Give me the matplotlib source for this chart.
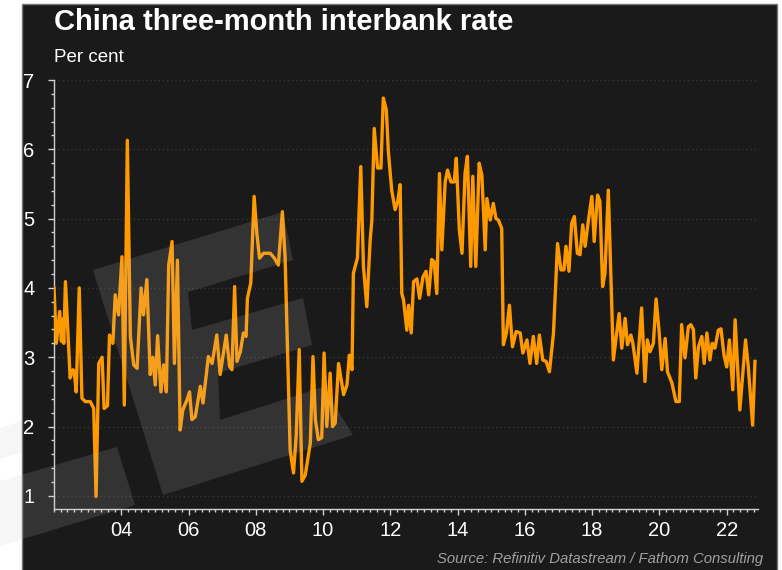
import matplotlib
matplotlib.use("Agg")
import matplotlib.pyplot as plt
from matplotlib.patches import Rectangle, Polygon
from matplotlib.ticker import MultipleLocator

plt.rcParams['font.family'] = ['Liberation Sans', 'DejaVu Sans']

# decimal years and three-month rate (per cent)
dates = [2002.00, 2002.07, 2002.17, 2002.22, 2002.25, 2002.29, 2002.34, 2002.48, 2002.56, 2002.60,
         2002.66, 2002.75, 2002.83, 2002.93, 2003.08, 2003.18, 2003.25, 2003.33, 2003.43, 2003.49,
         2003.59, 2003.65, 2003.75, 2003.82, 2003.92, 2004.02, 2004.09, 2004.18, 2004.27, 2004.37,
         2004.47, 2004.59, 2004.66, 2004.76, 2004.86, 2004.94, 2005.01, 2005.08, 2005.18, 2005.26,
         2005.34, 2005.41, 2005.51, 2005.58, 2005.67, 2005.75, 2005.83, 2005.95, 2006.03, 2006.10,
         2006.20, 2006.35, 2006.43, 2006.59, 2006.70, 2006.84, 2006.94, 2007.12, 2007.22, 2007.29,
         2007.37, 2007.44, 2007.54, 2007.63, 2007.71, 2007.75, 2007.85, 2007.95, 2008.03, 2008.11,
         2008.23, 2008.43, 2008.55, 2008.67, 2008.79, 2008.87, 2009.02, 2009.12, 2009.20, 2009.29,
         2009.37, 2009.47, 2009.62, 2009.70, 2009.77, 2009.86, 2009.96, 2010.03, 2010.11, 2010.21,
         2010.28, 2010.36, 2010.46, 2010.61, 2010.71, 2010.78, 2010.86, 2010.90, 2011.02, 2011.12,
         2011.20, 2011.30, 2011.40, 2011.45, 2011.52, 2011.62, 2011.72, 2011.79, 2011.88, 2011.94,
         2012.04, 2012.14, 2012.22, 2012.29, 2012.34, 2012.39, 2012.49, 2012.54, 2012.62, 2012.69,
         2012.79, 2012.87, 2012.97, 2013.06, 2013.14, 2013.23, 2013.30, 2013.38, 2013.46, 2013.53,
         2013.63, 2013.70, 2013.80, 2013.90, 2013.96, 2014.05, 2014.13, 2014.22, 2014.29, 2014.39,
         2014.45, 2014.54, 2014.64, 2014.72, 2014.82, 2014.87, 2014.97, 2015.06, 2015.14, 2015.21,
         2015.31, 2015.36, 2015.45, 2015.54, 2015.63, 2015.74, 2015.86, 2015.94, 2016.06, 2016.15,
         2016.25, 2016.35, 2016.43, 2016.53, 2016.63, 2016.73, 2016.85, 2016.97, 2017.07, 2017.16,
         2017.22, 2017.31, 2017.39, 2017.47, 2017.56, 2017.64, 2017.72, 2017.79, 2017.89, 2017.99,
         2018.06, 2018.16, 2018.23, 2018.31, 2018.38, 2018.48, 2018.63, 2018.80, 2018.88, 2018.98,
         2019.05, 2019.15, 2019.21, 2019.33, 2019.47, 2019.57, 2019.64, 2019.72, 2019.82, 2019.90,
         2019.99, 2020.07, 2020.17, 2020.24, 2020.37, 2020.49, 2020.59, 2020.66, 2020.76, 2020.86,
         2020.93, 2021.01, 2021.08, 2021.16, 2021.26, 2021.33, 2021.41, 2021.50, 2021.57, 2021.65,
         2021.75, 2021.83, 2021.92, 2022.00, 2022.08, 2022.18, 2022.25, 2022.39, 2022.56, 2022.64,
         2022.77, 2022.84]
rates = [4.00, 3.20, 3.66, 3.23, 3.55, 3.20, 4.09, 2.70, 2.82, 2.80,
         2.50, 4.00, 2.41, 2.36, 2.36, 2.26, 0.99, 2.91, 3.00, 2.26,
         2.30, 3.32, 3.20, 3.90, 3.61, 4.45, 2.31, 6.13, 3.30, 2.89,
         2.84, 4.00, 3.61, 4.12, 2.75, 3.00, 2.60, 3.31, 2.50, 2.89,
         2.50, 4.33, 4.67, 2.91, 4.40, 1.95, 2.24, 2.38, 2.50, 2.10,
         2.14, 2.58, 2.34, 3.01, 2.91, 3.32, 2.75, 3.32, 2.87, 2.82,
         4.02, 2.94, 3.08, 3.35, 3.30, 3.85, 4.07, 5.32, 4.79, 4.43,
         4.50, 4.50, 4.43, 4.33, 5.10, 4.45, 1.66, 1.33, 1.86, 3.11,
         1.21, 1.30, 1.76, 3.01, 2.10, 1.81, 1.84, 3.06, 2.00, 2.77,
         2.00, 2.05, 2.91, 2.46, 2.60, 3.03, 2.82, 4.21, 4.43, 5.75,
         4.31, 3.73, 4.69, 4.98, 6.30, 5.73, 5.73, 6.74, 6.57, 5.97,
         5.41, 5.13, 5.25, 5.49, 3.92, 3.83, 3.39, 3.75, 3.35, 4.09,
         4.13, 3.85, 4.16, 4.24, 3.90, 4.41, 4.38, 3.92, 5.65, 4.55,
         5.53, 5.70, 5.53, 5.53, 5.87, 4.84, 4.50, 5.65, 5.90, 4.31,
         5.61, 4.31, 5.80, 5.63, 4.55, 5.29, 4.98, 5.22, 5.00, 4.98,
         4.86, 3.18, 3.35, 3.75, 3.15, 3.37, 3.35, 3.06, 3.25, 2.91,
         3.30, 2.91, 3.32, 2.96, 2.94, 2.79, 3.35, 4.64, 4.26, 4.26,
         4.60, 4.24, 4.93, 5.03, 4.50, 4.48, 4.91, 4.60, 4.98, 5.32,
         4.67, 5.34, 5.25, 4.02, 4.21, 5.41, 2.96, 3.63, 3.13, 3.56,
         3.18, 3.32, 3.20, 2.77, 3.71, 2.65, 3.25, 3.08, 3.20, 3.84,
         3.37, 2.82, 3.27, 2.79, 2.63, 2.36, 2.36, 3.47, 2.99, 3.44,
         3.47, 3.40, 2.70, 3.15, 3.30, 2.91, 3.35, 2.96, 3.20, 3.13,
         3.39, 3.41, 3.03, 2.86, 3.25, 2.53, 3.54, 2.24, 3.25, 2.87,
         2.02, 2.94]

tick_years = [2004, 2006, 2008, 2010, 2012, 2014, 2016, 2018, 2020, 2022]
tick_labels = ['04', '06', '08', '10', '12', '14', '16', '18', '20', '22']

W, H = 782, 570
fig = plt.figure(figsize=(W / 100, H / 100), dpi=100)
fig.patch.set_facecolor('white')


def fx(x):
    return x / W


def fy(y):
    return 1 - y / H


# dark panel
fig.patches.append(Rectangle((fx(22), fy(571)), fx(777) - fx(22), fy(4) - fy(571),
                             transform=fig.transFigure, facecolor='#1a1a1a',
                             edgecolor='#777777', lw=1, zorder=-5))

ax = fig.add_axes([fx(54), fy(509), fx(758) - fx(54), fy(80) - fy(509)])
ax.set_facecolor('none')
ax.plot(dates, rates, color='#ff9900', lw=2.4, solid_joinstyle='round', zorder=3)

ax.set_xlim(2002.0, 2022.93)
ax.set_ylim(0.81, 7.0)
ax.set_xticks(tick_years)
ax.set_xticklabels(tick_labels)
ax.xaxis.set_minor_locator(MultipleLocator(0.2))
ax.set_yticks(range(1, 8))
ax.yaxis.set_minor_locator(MultipleLocator(0.2))

for s in ['top', 'right']:
    ax.spines[s].set_visible(False)
for s in ['left', 'bottom']:
    ax.spines[s].set_color('#d0d0d0')
    ax.spines[s].set_linewidth(1)

ax.tick_params(axis='both', which='major', colors='#d0d0d0', labelcolor='white',
               labelsize=14.5, length=4.5, width=1)
ax.tick_params(axis='both', which='minor', colors='#d0d0d0', length=2.2, width=1)
ax.tick_params(axis='y', which='major', pad=9.5)
ax.tick_params(axis='x', which='major', pad=4)
ax.yaxis.grid(True, color='#2f3833', ls=(0, (1, 2)), lw=1)
ax.set_axisbelow(True)

fig.text(fx(54), fy(30), 'China three-month interbank rate', color='white',
         fontsize=21, fontweight='bold', va='baseline', ha='left')
fig.text(fx(54), fy(62), 'Per cent', color='white', fontsize=13.5, va='baseline', ha='left')
fig.text(fx(763), fy(563), 'Source: Refinitiv Datastream / Fathom Consulting',
         color='#a0a0a0', fontsize=10.7, style='italic', va='baseline', ha='right')

# faint watermark logo
logo = [
    [(93, 270), (283, 212), (293, 260), (188, 292), (192, 330), (303, 298), (312, 345),
     (218, 373), (220, 420), (323, 387), (353, 435), (163, 495)],
    [(-20, 487), (117, 447), (135, 505), (-20, 552)],
    [(0, 428), (22, 421), (22, 452), (0, 459)],
]
for pts in logo:
    fig.patches.append(Polygon([(fx(x), fy(y)) for x, y in pts], closed=True,
                               transform=fig.transFigure, facecolor='#c8c8c8',
                               edgecolor='none', alpha=0.15, zorder=10))

fig.savefig('out.png', dpi=100, facecolor=fig.get_facecolor())
